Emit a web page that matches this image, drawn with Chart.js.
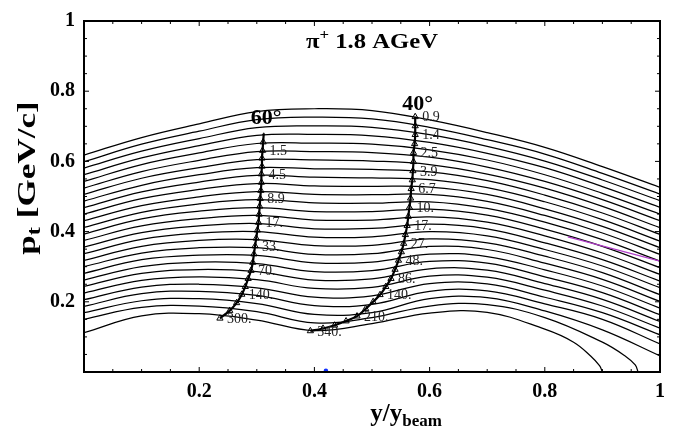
<!DOCTYPE html>
<html>
<head>
<meta charset="utf-8">
<script src="https://cdn.jsdelivr.net/npm/chart.js@4"></script>
<style>html,body{margin:0;padding:0;background:#fff}</style>
</head>
<body>
<canvas id="c" width="682" height="436"></canvas>
<script>
'use strict';
const serif = "'Liberation Serif', 'Times New Roman', serif";

// contour lines, read at y/ybeam = 0, 0.1 ... 1
const xGrid = [0, 0.1, 0.2, 0.3, 0.4, 0.5, 0.6, 0.7, 0.8, 0.9, 1];
const contourPt = [
    [.618, .668, .707, .742, .750, .745, .718, .682, .640, .585, .526],
    [.599, .649, .686, .719, .726, .721, .697, .662, .621, .566, .507],
    [.581, .629, .665, .696, .701, .697, .676, .643, .601, .547, .488],
    [.562, .610, .645, .674, .677, .673, .654, .623, .582, .528, .469],
    [.543, .591, .624, .651, .652, .649, .633, .604, .562, .509, .450],
    [.524, .571, .603, .628, .628, .625, .612, .584, .543, .491, .431],
    [.506, .552, .582, .605, .604, .601, .591, .564, .524, .472, .411],
    [.487, .532, .562, .582, .579, .577, .570, .545, .504, .453, .392],
    [.468, .513, .541, .560, .555, .553, .548, .525, .485, .434, .373],
    [.450, .494, .520, .537, .530, .529, .527, .506, .465, .415, .354],
    [.431, .474, .499, .514, .506, .505, .506, .486, .446, .396, .335],
    [.412, .455, .479, .491, .482, .481, .485, .466, .427, .377, .316],
    [.393, .436, .458, .468, .457, .457, .464, .447, .407, .358, .297],
    [.375, .416, .437, .446, .433, .433, .442, .427, .388, .339, .278],
    [.356, .397, .416, .423, .408, .409, .421, .408, .368, .320, .259],
    [.337, .378, .396, .400, .384, .385, .400, .388, .349, .302, .240],
    [.318, .358, .375, .377, .360, .361, .379, .368, .330, .283, .220],
    [.300, .339, .354, .354, .335, .337, .358, .349, .310, .264, .201],
    [.281, .320, .333, .332, .311, .313, .336, .329, .291, .245, .182],
    [.262, .300, .313, .309, .286, .289, .315, .310, .271, .226, .163],
    [.244, .281, .292, .286, .262, .265, .294, .290, .252, .207, .144],
    [.225, .261, .271, .263, .238, .241, .273, .270, .233, .188, .125],
    [.206, .242, .250, .240, .213, .217, .252, .251, .213, .169, .106],
    [.187, .223, .230, .218, .189, .193, .230, .231, .194, .150, .080],
    [.169, .203, .209, .195, .164, .169, .209, .212, .174, .120, .046]
];
// the two lowest lines end on the x axis
const lowX1 = [0, 0.1, 0.2, 0.3, 0.4, 0.5, 0.6, 0.7, 0.8, 0.9, 0.94, 0.957, 0.962];
const lowPt1 = [.150, .184, .188, .172, .140, .155, .188, .192, .155, .085, .045, .020, 0];
const lowX2 = [0, 0.1, 0.2, 0.3, 0.4, 0.5, 0.6, 0.7, 0.8, 0.85, 0.88, 0.895, 0.9];
const lowPt2 = [.112, .160, .166, .148, .118, .138, .168, .170, .122, .085, .045, .018, 0];

// 60 degree line
const x60 = [.312, .311, .310, .309, .309, .308, .308, .307, .306, .305, .304, .303,
    .301, .299, .297, .295, .293, .290, .285, .280, .274, .265, .253, .236];
const pt60 = [.678, .655, .631, .609, .586, .564, .540, .517, .494, .472, .449, .426,
    .404, .381, .359, .336, .312, .289, .266, .243, .221, .197, .175, .153];
const labels60 = ['1.5', '4.5', '8.9', '17.', '33.', '70.', '140.', '300.'];
const labelAt60 = [2, 5, 8, 11, 14, 17, 20, 23];

// 40 degree line
const x40 = [.575, .575, .575, .574, .572, .572, .571, .570, .568, .567, .565, .563, .561, .558,
    .555, .551, .546, .540, .533, .524, .514, .502, .489, .474, .455, .435, .415, .393];
const pt40 = [.727, .701, .676, .650, .625, .599, .573, .547, .522, .495, .469, .443, .417, .391,
    .366, .342, .318, .292, .266, .243, .220, .200, .180, .159, .145, .133, .124, .117];
const labels40 = ['0.9', '1.4', '2.5', '3.9', '6.7', '10.', '17.', '27.', '48.', '86.', '140.', '210.', '340.'];
const labelAt40 = [0, 2, 4, 6, 8, 10, 12, 14, 16, 18, 20, 23, 27];

const magentaX = [0.84, 1.0];
const magentaPt = [0.385, 0.316];
const blueX = [0.42];
const bluePt = [0.004];

function toPoints(xs, ys) {
    return ys.map((v, i) => ({ x: xs[i], y: v }));
}

const datasets = [];
contourPt.forEach(function (row) {
    datasets.push({ data: toPoints(xGrid, row), borderColor: '#000', borderWidth: 1.25,
        pointRadius: 0, tension: 0.4, order: 3 });
});
datasets.push({ data: toPoints(lowX1, lowPt1), borderColor: '#000', borderWidth: 1.25, pointRadius: 0, tension: 0.4, order: 3 });
datasets.push({ data: toPoints(lowX2, lowPt2), borderColor: '#000', borderWidth: 1.25, pointRadius: 0, tension: 0.4, order: 3 });
datasets.push({ data: toPoints(magentaX, magentaPt), borderColor: '#b03cc8', borderWidth: 1.2, pointRadius: 0, order: 2 });

function angleSet(xs, ys, first) {
    return {
        data: toPoints(xs, ys), borderColor: '#000', borderWidth: 2.2, tension: 0.3, order: 1,
        pointStyle: 'triangle', pointRadius: ys.map((v, i) => i === 0 ? first : 3.6),
        pointBackgroundColor: 'rgba(255,255,255,0)', pointBorderColor: '#000', pointBorderWidth: 1
    };
}
datasets.push(angleSet(x60, pt60, 1.2));
datasets.push(angleSet(x40, pt40, 3.6));
datasets.push({ data: toPoints(blueX, bluePt), showLine: false, pointRadius: 2.2,
    pointBackgroundColor: '#1030ff', pointBorderWidth: 0, order: 0 });

function drawRich(ctx, parts, x, y, align) {
    let w = 0;
    parts.forEach(function (p) {
        ctx.font = 'bold ' + p[1] + 'px ' + serif;
        w += ctx.measureText(p[0]).width;
    });
    let cx = align === 'center' ? x - w / 2 : x;
    parts.forEach(function (p) {
        ctx.font = 'bold ' + p[1] + 'px ' + serif;
        ctx.fillText(p[0], cx, y + p[2]);
        cx += ctx.measureText(p[0]).width;
    });
}

const overlay = {
    id: 'overlay',
    afterDatasetsDraw(chart) {
        const ctx = chart.ctx;
        const a = chart.chartArea;
        const sx = chart.scales.x, sy = chart.scales.y;
        ctx.save();
        ctx.strokeStyle = '#000';
        ctx.lineWidth = 2;
        ctx.strokeRect(a.left, a.top, a.right - a.left, a.bottom - a.top);
        ctx.lineWidth = 1;
        for (let i = 0; i <= 20; i++) {
            const v = i * 0.05;
            const len = i % 4 === 0 ? 5 : 3;
            const px = sx.getPixelForValue(v), py = sy.getPixelForValue(v);
            ctx.beginPath();
            ctx.moveTo(px, a.bottom); ctx.lineTo(px, a.bottom - len);
            ctx.moveTo(px, a.top); ctx.lineTo(px, a.top + len);
            ctx.moveTo(a.left, py); ctx.lineTo(a.left + len, py);
            ctx.moveTo(a.right, py); ctx.lineTo(a.right - len, py);
            ctx.stroke();
        }

        // values along the angle lines
        ctx.fillStyle = '#222';
        ctx.font = '14px ' + serif;
        ctx.textBaseline = 'middle';
        ctx.textAlign = 'left';
        labelAt60.forEach(function (k, i) {
            ctx.fillText(labels60[i], sx.getPixelForValue(x60[k]) + 7, sy.getPixelForValue(pt60[k]) + 1);
        });
        labelAt40.forEach(function (k, i) {
            ctx.fillText(labels40[i], sx.getPixelForValue(x40[k]) + 7, sy.getPixelForValue(pt40[k]) + 1);
        });

        ctx.fillStyle = '#000';
        ctx.textBaseline = 'alphabetic';
        drawRich(ctx, [['60°', 22, 0]], sx.getPixelForValue(x60[0]) - 13, sy.getPixelForValue(pt60[0]) - 10, 'left');
        drawRich(ctx, [['40°', 22, 0]], sx.getPixelForValue(x40[0]) - 13, sy.getPixelForValue(pt40[0]) - 7, 'left');

        // title over the middle of the frame
        ctx.save();
        ctx.translate((a.left + a.right) / 2, 48);
        ctx.scale(1.12, 1);
        drawRich(ctx, [['π', 22, 0], ['+', 15, -9], [' 1.8 AGeV', 22, 0]], 0, 0, 'center');
        ctx.restore();

        // axis titles
        drawRich(ctx, [['y/y', 25, 0], ['beam', 17, 5]], sx.getPixelForValue(0.497), 421, 'left');
        ctx.translate(35, 178);
        ctx.rotate(-Math.PI / 2);
        ctx.scale(1.35, 1);
        drawRich(ctx, [['p', 26, 0], ['t', 18, 5], [' [GeV/c]', 26, 0]], 0, 0, 'center');
        ctx.restore();
    }
};

const tickFont = { family: serif, size: 20, weight: 'bold' };
function tickLabel(v) {
    if (v < 0.01) return '';
    if (v > 0.99) return '1';
    return v.toFixed(1);
}

new Chart(document.getElementById('c'), {
    type: 'scatter',
    data: { datasets: datasets },
    options: {
        responsive: false,
        animation: false,
        devicePixelRatio: 1,
        showLine: true,
        layout: { padding: { left: 0, right: 22, top: 14, bottom: 0 } },
        plugins: { legend: { display: false }, tooltip: { enabled: false } },
        scales: {
            x: {
                type: 'linear', min: 0, max: 1,
                grid: { display: false, drawTicks: false },
                border: { display: false },
                ticks: { stepSize: 0.2, autoSkip: false, maxRotation: 0, padding: 8,
                    color: '#000', font: tickFont, callback: tickLabel },
                afterFit: function (s) { s.height = 64; }
            },
            y: {
                type: 'linear', min: 0, max: 1,
                grid: { display: false, drawTicks: false },
                border: { display: false },
                ticks: { stepSize: 0.2, autoSkip: false, padding: 9,
                    color: '#000', font: tickFont, callback: tickLabel },
                afterFit: function (s) { s.width = 84; }
            }
        }
    },
    plugins: [overlay]
});
</script>
</body>
</html>
